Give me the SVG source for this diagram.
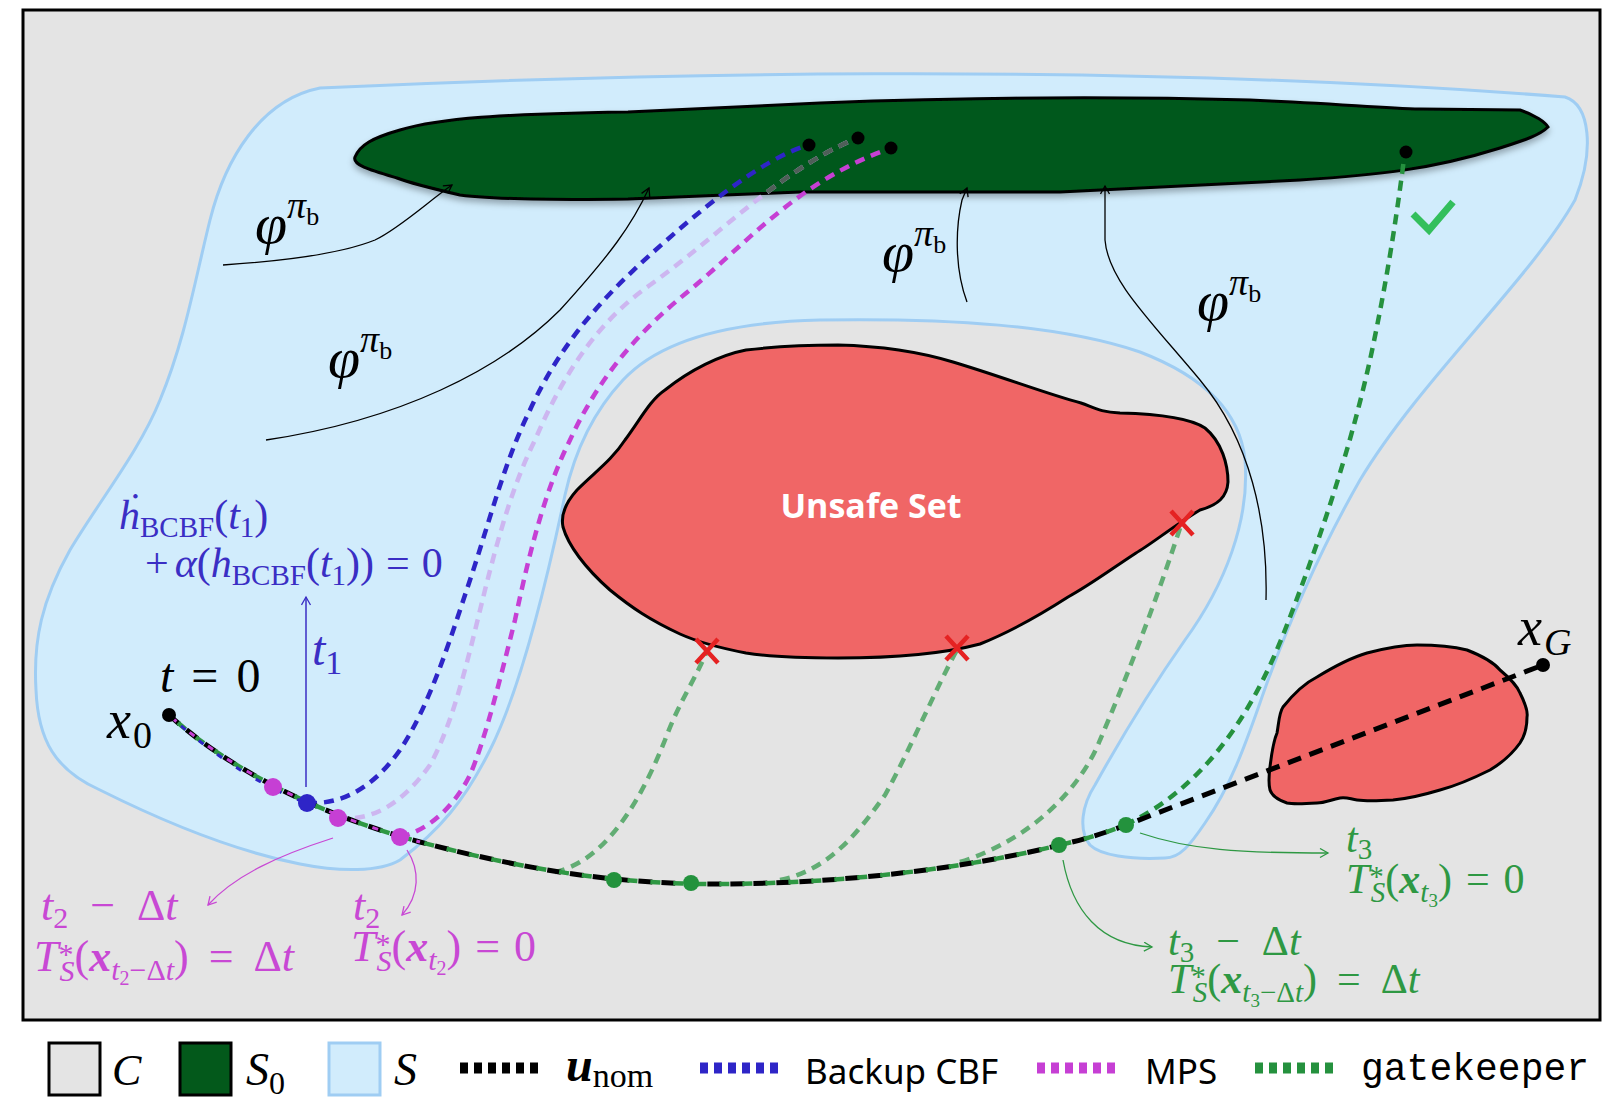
<svg xmlns="http://www.w3.org/2000/svg" xmlns:xlink="http://www.w3.org/1999/xlink" width="1620" height="1115" viewBox="0 0 1620 1115">
<style>
.m{font-family:"Liberation Serif","DejaVu Serif",serif;font-style:italic;}
.up{font-style:normal;}
.bl{fill:#3a2ec4;}
.mg{fill:#c848d4;}
.gr{fill:#2e9843;}
.thin{fill:none;stroke:#000;stroke-width:1.3;}
.dash{fill:none;stroke-width:4.5;stroke-dasharray:10 7;}
.leg{fill:none;stroke-width:11;stroke-dasharray:8 6;}
.sans{font-family:"Noto Sans","Open Sans",sans-serif;}
</style>
<defs>
<marker id="ak" markerUnits="userSpaceOnUse" markerWidth="14" markerHeight="14" refX="9" refY="5" orient="auto"><path d="M1,0.5 L9,5 L1,9.5" fill="none" stroke="#000" stroke-width="1.3"/></marker>
<marker id="ab" markerUnits="userSpaceOnUse" markerWidth="14" markerHeight="14" refX="9" refY="5" orient="auto"><path d="M1,0.5 L9,5 L1,9.5" fill="none" stroke="#3a2ec4" stroke-width="1.3"/></marker>
<marker id="am" markerUnits="userSpaceOnUse" markerWidth="14" markerHeight="14" refX="9" refY="5" orient="auto"><path d="M1,0.5 L9,5 L1,9.5" fill="none" stroke="#c848d4" stroke-width="1.3"/></marker>
<marker id="ag" markerUnits="userSpaceOnUse" markerWidth="14" markerHeight="14" refX="9" refY="5" orient="auto"><path d="M1,0.5 L9,5 L1,9.5" fill="none" stroke="#2e9843" stroke-width="1.3"/></marker>
<path id="s0shape" d="M355,157 C 360,145 372,138 400,130 C 440,118 500,114 628,112 L 820,103 C 950,98 1100,96 1250,100 C 1330,103 1380,108 1420,109 L 1520,110 C 1535,115 1545,122 1548,127 C 1540,135 1525,140 1500,148 C 1430,170 1376,175 1300,180 L 1060,192 L 800,192 L 628,199 C 560,200 490,199 460,195 C 430,188 410,183 397,178 C 370,170 352,165 355,157 Z"/>
<clipPath id="s0clip"><use xlink:href="#s0shape"/></clipPath>
<filter id="sh" x="-5%" y="-20%" width="110%" height="150%"><feDropShadow dx="0" dy="4" stdDeviation="3" flood-color="#000" flood-opacity="0.3"/></filter>
</defs>

<rect x="23" y="10" width="1577" height="1010" fill="#e4e4e4" stroke="#000" stroke-width="3"/>

<g id="safe-set-S">
<path d="M320,88 C 600,75 1100,60 1565,97 C 1590,105 1595,150 1575,200 C 1530,280 1420,380 1360,480 C 1320,550 1290,620 1267,683 C 1250,730 1235,780 1205,823 C 1190,845 1180,858 1165,858 C 1130,860 1100,855 1090,845 C 1078,830 1082,805 1095,785 C 1120,740 1150,690 1185,640 C 1225,585 1250,520 1245,460 C 1240,410 1200,375 1140,352 C 1060,325 950,318 820,320 C 730,322 660,340 623,380 C 595,410 575,450 565,495 C 545,590 520,690 490,750 C 465,800 440,830 400,860 C 380,872 340,872 300,864 C 230,850 160,820 100,790 C 55,770 38,740 36,690 C 33,640 42,600 70,550 C 100,500 140,450 160,400 C 185,340 195,280 210,220 C 225,160 260,100 320,88 Z" fill="#d1ecfc" stroke="#9fcdf3" stroke-width="3"/>
</g>

<g id="initial-set-S0">
<use xlink:href="#s0shape" fill="#03591b" stroke="#000" stroke-width="3" filter="url(#sh)"/>
</g>

<g id="unsafe-set">
<path d="M838,345 C 880,346 920,352 953,362 C 1000,376 1050,395 1081,403 C 1095,408 1100,412 1120,413 C 1160,414 1190,418 1205,428 C 1222,442 1228,465 1228,482 C 1227,497 1218,505 1200,510 C 1175,525 1150,545 1136,553 C 1110,570 1090,585 1068,597 C 1040,615 1010,632 980,644 C 950,652 900,658 838,658 C 800,658 770,657 746,653 C 720,648 700,643 680,634 C 650,620 632,608 610,590 C 585,568 568,545 563,527 C 560,512 568,500 577,490 C 595,472 612,460 625,440 C 640,420 650,400 665,390 C 690,370 720,355 746,350 C 780,346 810,345 838,345 Z" fill="#f06666" stroke="#000" stroke-width="3"/>
<text x="871" y="518" text-anchor="middle" font-family="'Open Sans','Noto Sans',sans-serif" font-weight="bold" font-size="34" fill="#fff">Unsafe Set</text>
</g>

<g id="unsafe-set-small">
<path d="M1283,707 C 1295,692 1305,683 1317,677 C 1335,666 1350,658 1367,653 C 1390,647 1405,645 1417,645 C 1440,645 1455,647 1467,650 C 1485,657 1495,664 1500,670 C 1512,680 1518,688 1520,693 C 1526,705 1528,712 1527,717 C 1527,728 1524,737 1520,743 C 1510,757 1500,764 1490,770 C 1470,780 1455,786 1440,790 C 1420,796 1405,799 1393,800 C 1375,801 1365,801 1357,800 C 1350,799 1347,797 1340,798 C 1330,800 1325,803 1317,803 C 1300,804 1292,804 1287,803 C 1278,800 1272,796 1270,790 C 1268,782 1269,775 1270,767 C 1272,750 1274,740 1277,733 C 1279,722 1279,713 1283,707 Z" fill="#f06666" stroke="#000" stroke-width="3"/>
</g>

<g id="flows" class="thin">
<path d="M223,265 C 300,260 350,250 375,240 C 400,228 430,200 452,185" marker-end="url(#ak)"/>
<path d="M266,440 C 400,420 500,370 560,310 C 610,255 632,225 649,188" marker-end="url(#ak)"/>
<path d="M967,302 C 955,270 955,230 962,200 L 967,188" marker-end="url(#ak)"/>
<path d="M1266,600 C 1268,520 1250,440 1200,380 C 1150,320 1108,280 1105,240 L 1105,186" marker-end="url(#ak)"/>
</g>

<g id="connectors">
<path class="dash" stroke="#62ad74" d="M555,872 C 610,860 645,790 665,740 C 680,700 695,680 707,651"/>
<path class="dash" stroke="#62ad74" d="M780,880 C 830,870 860,830 885,795 C 910,750 935,690 957,650"/>
<path class="dash" stroke="#62ad74" d="M960,862 C 1030,840 1080,790 1100,740 C 1130,670 1160,590 1182,522"/>
<path class="dash" stroke="#2e25c7" d="M307,803 C 345,805 375,785 400,750 C 430,705 450,640 470,580 C 490,520 505,460 530,410 C 560,345 600,300 650,255 C 700,210 760,160 808,145"/>
<path class="dash" stroke="#cdb6f0" d="M338,818 C 375,822 405,800 430,765 C 455,720 470,650 485,590 C 500,530 515,480 535,440 C 565,370 600,320 650,285 C 720,235 780,170 857,138"/>
<path class="dash" stroke="#4f5f58" clip-path="url(#s0clip)" d="M338,818 C 375,822 405,800 430,765 C 455,720 470,650 485,590 C 500,530 515,480 535,440 C 565,370 600,320 650,285 C 720,235 780,170 857,138"/>
<path class="dash" stroke="#c63fd4" d="M400,837 C 430,830 455,805 470,775 C 485,740 500,680 515,620 C 530,550 545,490 570,440 C 600,375 640,330 690,290 C 750,240 800,180 891,148"/>
<path class="dash" stroke="#25913e" d="M1125,825 C 1200,790 1250,720 1285,630 C 1320,540 1350,450 1370,360 C 1385,290 1395,230 1405,151"/>
<path fill="none" stroke="#000" stroke-width="5" stroke-dasharray="14 9" d="M169,715 C 230,770 320,815 420,842 C 520,868 600,882 700,884 C 820,885 950,872 1060,845 C 1090,838 1110,831 1126,825 L 1543,665"/>
<path fill="none" stroke="#2e9843" stroke-width="4.5" stroke-dasharray="10 13" stroke-dashoffset="-12" d="M169,715 C 230,770 320,815 420,842 C 520,868 600,882 700,884 C 820,885 950,872 1060,845 C 1090,838 1110,831 1126,825"/>
<path fill="none" stroke="#c63fd4" stroke-width="3" stroke-dasharray="6 17" stroke-dashoffset="-4" d="M169,715 C 230,770 320,815 420,842"/>
<path fill="none" stroke="#2e25c7" stroke-width="3" stroke-dasharray="6 17" stroke-dashoffset="-16" d="M169,715 C 220,762 270,790 307,803"/>
<path d="M306,787 L306,597" fill="none" stroke="#3a2ec4" stroke-width="1.5" marker-end="url(#ab)"/>
<path d="M333,838 C 280,855 235,875 208,905" fill="none" stroke="#c848d4" stroke-width="1.3" marker-end="url(#am)"/>
<path d="M407,850 C 420,870 420,895 402,915" fill="none" stroke="#c848d4" stroke-width="1.3" marker-end="url(#am)"/>
<path d="M1140,833 C 1190,850 1240,853 1328,853" fill="none" stroke="#2e9843" stroke-width="1.3" marker-end="url(#ag)"/>
<path d="M1063,860 C 1072,910 1100,945 1152,947" fill="none" stroke="#2e9843" stroke-width="1.3" marker-end="url(#ag)"/>
</g>

<g id="crosses" stroke="#e52222" stroke-width="4.5">
<path d="M696,639 L718,663 M718,639 L696,663"/>
<path d="M946,636 L968,660 M968,636 L946,660"/>
<path d="M1171,511 L1193,535 M1193,511 L1171,535"/>
</g>

<g id="check"><polyline points="1413,214 1429,230 1453,202" fill="none" stroke="#33bf5c" stroke-width="7"/></g>

<g id="points">
<circle cx="169" cy="715" r="7" fill="#000"/>
<circle cx="1543" cy="665" r="7" fill="#000"/>
<circle cx="809" cy="145" r="6.5" fill="#000"/>
<circle cx="858" cy="138" r="6.5" fill="#000"/>
<circle cx="891" cy="148" r="6.5" fill="#000"/>
<circle cx="1406" cy="152" r="6.5" fill="#000"/>
<circle cx="273" cy="787" r="9" fill="#c63fd4"/>
<circle cx="307" cy="803" r="9" fill="#2e25c7"/>
<circle cx="338" cy="818" r="9" fill="#c63fd4"/>
<circle cx="400" cy="837" r="9" fill="#c63fd4"/>
<circle cx="614" cy="880" r="8" fill="#23923d"/>
<circle cx="691" cy="883" r="8" fill="#23923d"/>
<circle cx="1059" cy="845" r="8" fill="#23923d"/>
<circle cx="1126" cy="825" r="8" fill="#23923d"/>
</g>

<g id="labels">
<text class="m" x="255" y="243" font-size="58">φ<tspan font-size="38" dy="-25">π</tspan><tspan class="up" font-size="26" dy="7">b</tspan></text>
<text class="m" x="328" y="377" font-size="58">φ<tspan font-size="38" dy="-25">π</tspan><tspan class="up" font-size="26" dy="7">b</tspan></text>
<text class="m" x="882" y="271" font-size="58">φ<tspan font-size="38" dy="-25">π</tspan><tspan class="up" font-size="26" dy="7">b</tspan></text>
<text class="m" x="1197" y="320" font-size="58">φ<tspan font-size="38" dy="-25">π</tspan><tspan class="up" font-size="26" dy="7">b</tspan></text>

<text class="m bl" x="119" y="529" font-size="42">ḣ<tspan class="up" font-size="29" dy="8">BCBF</tspan><tspan class="up" dy="-8">(</tspan>t<tspan class="up" font-size="29" dy="8">1</tspan><tspan class="up" dy="-8">)</tspan></text>
<text class="m bl" x="145" y="577" font-size="42"><tspan class="up">+</tspan><tspan dx="6">α</tspan><tspan class="up">(</tspan>h<tspan class="up" font-size="29" dy="8">BCBF</tspan><tspan class="up" dy="-8">(</tspan>t<tspan class="up" font-size="29" dy="8">1</tspan><tspan class="up" dy="-8">))</tspan><tspan class="up" dx="12">=</tspan><tspan class="up" dx="12">0</tspan></text>
<text class="m bl" x="312" y="665" font-size="48">t<tspan class="up" font-size="34" dy="9">1</tspan></text>

<text class="m" x="160" y="692" font-size="48">t<tspan class="up" dx="18">=</tspan><tspan class="up" dx="18">0</tspan></text>
<text class="m" x="107" y="738" font-size="54">x<tspan class="up" font-size="38" dy="10" dx="2">0</tspan></text>
<text class="m" x="1518" y="645" font-size="54">x<tspan font-size="38" dy="10" dx="2">G</tspan></text>

<text class="m mg" x="41" y="920" font-size="44">t<tspan class="up" font-size="30" dy="8">2</tspan><tspan class="up" dy="-8" dx="22">−</tspan><tspan class="up" dx="22">Δ</tspan>t</text>
<text class="m mg" x="34" y="971" font-size="44">T<tspan class="up" font-size="30" dy="-7">*</tspan><tspan font-size="30" dx="-14" dy="17">S</tspan><tspan class="up" dy="-10">(</tspan><tspan font-weight="bold">x</tspan><tspan font-size="30" dy="9">t</tspan><tspan class="up" font-size="20" dy="5">2</tspan><tspan class="up" font-size="30" dy="-5">−Δ</tspan><tspan font-size="30">t</tspan><tspan class="up" dy="-9">)</tspan><tspan class="up" dx="20">=</tspan><tspan class="up" dx="20">Δ</tspan>t</text>

<text class="m mg" x="353" y="920" font-size="44">t<tspan class="up" font-size="30" dy="8">2</tspan></text>
<text class="m mg" x="351" y="961" font-size="44">T<tspan class="up" font-size="30" dy="-7">*</tspan><tspan font-size="30" dx="-14" dy="17">S</tspan><tspan class="up" dy="-10">(</tspan><tspan font-weight="bold">x</tspan><tspan font-size="30" dy="9">t</tspan><tspan class="up" font-size="20" dy="5">2</tspan><tspan class="up" dy="-14">)</tspan><tspan class="up" dx="14">=</tspan><tspan class="up" dx="14">0</tspan></text>

<text class="m gr" x="1346" y="852" font-size="42">t<tspan class="up" font-size="29" dy="7">3</tspan></text>
<text class="m gr" x="1346" y="893" font-size="42">T<tspan class="up" font-size="29" dy="-7">*</tspan><tspan font-size="29" dx="-13" dy="16">S</tspan><tspan class="up" dy="-9">(</tspan><tspan font-weight="bold">x</tspan><tspan font-size="29" dy="9">t</tspan><tspan class="up" font-size="19" dy="5">3</tspan><tspan class="up" dy="-14">)</tspan><tspan class="up" dx="14">=</tspan><tspan class="up" dx="14">0</tspan></text>

<text class="m gr" x="1168" y="955" font-size="42">t<tspan class="up" font-size="29" dy="7">3</tspan><tspan class="up" dy="-7" dx="22">−</tspan><tspan class="up" dx="22">Δ</tspan>t</text>
<text class="m gr" x="1168" y="993" font-size="42">T<tspan class="up" font-size="29" dy="-7">*</tspan><tspan font-size="29" dx="-13" dy="16">S</tspan><tspan class="up" dy="-9">(</tspan><tspan font-weight="bold">x</tspan><tspan font-size="29" dy="9">t</tspan><tspan class="up" font-size="19" dy="5">3</tspan><tspan class="up" font-size="29" dy="-5">−Δ</tspan><tspan font-size="29">t</tspan><tspan class="up" dy="-9">)</tspan><tspan class="up" dx="20">=</tspan><tspan class="up" dx="20">Δ</tspan>t</text>
</g>

<g id="legend">
<rect x="49" y="1043" width="51" height="52" fill="#e4e4e4" stroke="#000" stroke-width="3"/>
<text class="m" x="112" y="1085" font-size="44">C</text>
<rect x="180" y="1043" width="51" height="52" fill="#03591b" stroke="#000" stroke-width="3"/>
<text class="m" x="246" y="1085" font-size="46">S<tspan class="up" font-size="32" dy="9">0</tspan></text>
<rect x="329" y="1043" width="51" height="52" fill="#d1ecfc" stroke="#9fcdf3" stroke-width="3"/>
<text class="m" x="394" y="1085" font-size="46">S</text>
<path class="leg" stroke="#000" d="M460,1068 H544"/>
<text class="m" x="566" y="1081" font-size="48" font-weight="bold">u<tspan class="up" font-weight="normal" font-size="34" dy="6">nom</tspan></text>
<path class="leg" stroke="#2e25c7" d="M700,1068 H784"/>
<text class="sans" x="805" y="1084" font-size="35">Backup CBF</text>
<path class="leg" stroke="#c63fd4" d="M1037,1068 H1121"/>
<text class="sans" x="1145" y="1084" font-size="35">MPS</text>
<path class="leg" stroke="#25913e" d="M1255,1068 H1339"/>
<text x="1361" y="1080" font-family="'Liberation Mono','DejaVu Sans Mono',monospace" font-size="38">gatekeeper</text>
</g>
</svg>
